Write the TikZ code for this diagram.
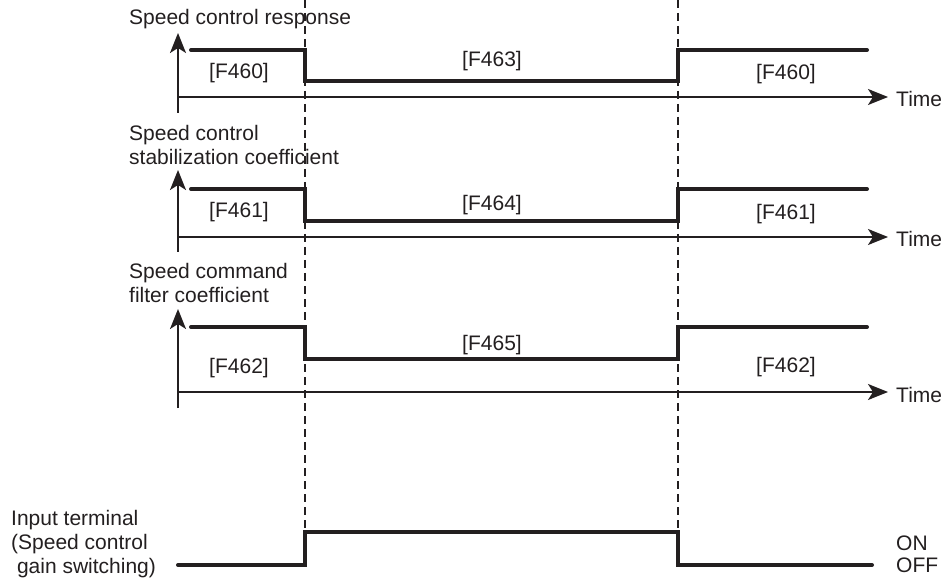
\documentclass[tikz,border=0pt]{standalone}
\usepackage{fontspec}
\setmainfont{Liberation Sans}
\usetikzlibrary{arrows.meta}
\definecolor{ink}{HTML}{231F20}
\begin{document}
\begin{tikzpicture}[x=1pt,y=-1pt,
  txt/.style={font=\fontsize{21}{24}\selectfont, text=ink, inner sep=0pt},
  sig/.style={line width=4pt, draw=ink, line join=miter, line cap=round},
  axisline/.style={line width=1.8pt, draw=ink},
  arr/.style={-{Stealth[length=20pt,width=16pt,inset=5pt]}},
  guide/.style={line width=1.8pt, draw=ink, dash pattern=on 8pt off 5pt}]
\useasboundingbox (0,0) rectangle (947,585);

% guide lines
\coordinate (g1t) at (305,0);
\coordinate (g1b) at (305,532);
\coordinate (g2t) at (678,0);
\coordinate (g2b) at (678,532);
\draw[guide] (g1t) -- (g1b);
\draw[guide] (g2t) -- (g2b);

% three timing panels
\foreach \n/\tp/\bt/\ax/\hi/\lo in {1/33/113/97/50/81, 2/170/252/237/189/221, 3/309/408/392/327/359}{
  \coordinate (vb\n) at (178,\bt);
  \coordinate (vt\n) at (178,\tp);
  \coordinate (hs\n) at (178,\ax);
  \coordinate (he\n) at (888,\ax);
  \coordinate (s\n a) at (191,\hi);
  \coordinate (s\n b) at (305,\hi);
  \coordinate (s\n c) at (305,\lo);
  \coordinate (s\n d) at (678,\lo);
  \coordinate (s\n e) at (678,\hi);
  \coordinate (s\n f) at (867,\hi);
  \draw[axisline,arr] (vb\n) -- (vt\n);
  \draw[axisline,arr] (hs\n) -- (he\n);
  \draw[sig] (s\n a) -- (s\n b) -- (s\n c) -- (s\n d) -- (s\n e) -- (s\n f);
  \node[txt, anchor=base west] (time\n) at (896,{\ax+10}) {Time};
}

% input terminal signal
\coordinate (i1) at (178,565);
\coordinate (i2) at (305,565);
\coordinate (i3) at (305,532);
\coordinate (i4) at (678,532);
\coordinate (i5) at (678,565);
\coordinate (i6) at (872,565);
\draw[sig] (i1) -- (i2) -- (i3) -- (i4) -- (i5) -- (i6);

% titles
\node[txt, anchor=base west] (t1) at (129,25) {Speed control response};
\node[txt, anchor=base west] (t2a) at (129,141) {Speed control};
\node[txt, anchor=base west] (t2b) at (129,165) {stabilization coefficient};
\node[txt, anchor=base west] (t3a) at (129,278) {Speed command};
\node[txt, anchor=base west] (t3b) at (129,302) {filter coefficient};
\node[txt, anchor=base west] (in1) at (11,525) {Input terminal};
\node[txt, anchor=base west] (in2) at (11,549) {(Speed control};
\node[txt, anchor=base west] (in3) at (11,573) {\ gain switching)};
\node[txt, anchor=base west] (on) at (896,550) {ON};
\node[txt, anchor=base west] (off) at (896,572) {OFF};

% parameter labels
\node[txt, anchor=base] (l1a) at (239,79) {[F460]};
\node[txt, anchor=base] (l1b) at (492,67) {[F463]};
\node[txt, anchor=base] (l1c) at (786,80) {[F460]};
\node[txt, anchor=base] (l2a) at (239,218) {[F461]};
\node[txt, anchor=base] (l2b) at (492,211) {[F464]};
\node[txt, anchor=base] (l2c) at (786,220) {[F461]};
\node[txt, anchor=base] (l3a) at (239,373) {[F462]};
\node[txt, anchor=base] (l3b) at (492,350) {[F465]};
\node[txt, anchor=base] (l3c) at (786,372) {[F462]};
\end{tikzpicture}
\end{document}
